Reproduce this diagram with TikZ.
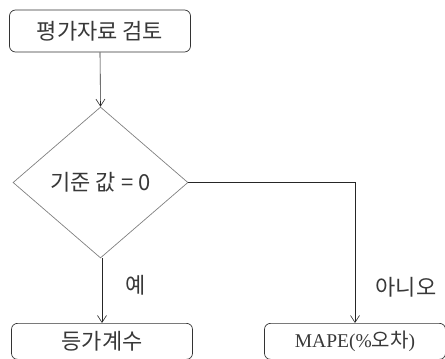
\documentclass[tikz,border=0pt]{standalone}
\usepackage{fontspec}
\setmainfont{Liberation Serif}
\newfontfamily\kr{Noto Sans CJK KR}
\usetikzlibrary{shapes.geometric,arrows.meta}
\begin{document}
\begin{tikzpicture}[x=1pt,y=-1pt,
  krfont/.style={font=\kr\fontsize{22}{26}\selectfont,text=black!78},
  box/.style={krfont,draw=black!80,line width=0.7pt,rounded corners=6pt,minimum width=181pt,minimum height=42pt,inner sep=0pt},
  dec/.style={krfont,draw=black!50,line width=0.7pt,shape=diamond,minimum width=175pt,minimum height=151pt,inner sep=0pt},
  conn/.style={draw=black!85,line width=0.6pt,-{Straight Barb[length=7pt,width=9pt,line width=0.6pt]}},
  lab/.style={krfont}]
\useasboundingbox (0,0) rectangle (445,359);
\clip (0,0) rectangle (445,359);
\node[box] (review) at (100,31) {평가자료 검토};
\node[dec] (cond) at (100.5,182.5) {기준 값 = 0};
\node[box,anchor=north,minimum height=36pt] (equiv) at (102,323) {등가계수};
\node[box,anchor=north,minimum height=36pt] (mape) at (355,323) {{\rmfamily\fontsize{19.5}{22}\selectfont MAPE(\%}{\fontsize{20}{22}\selectfont 오차}{\rmfamily\fontsize{19.5}{22}\selectfont )}};
\coordinate (bend) at (355,182.5);
\draw[conn] (review.south) -- (cond.north);
\draw[conn] (cond.south -| equiv.north) -- (equiv.north);
\draw[conn] (cond.east) -- (bend) -- (mape.north);
\node[lab] (yes) at (136,285) {예};
\node[lab] (no) at (406,287) {아니오};
\end{tikzpicture}
\end{document}
